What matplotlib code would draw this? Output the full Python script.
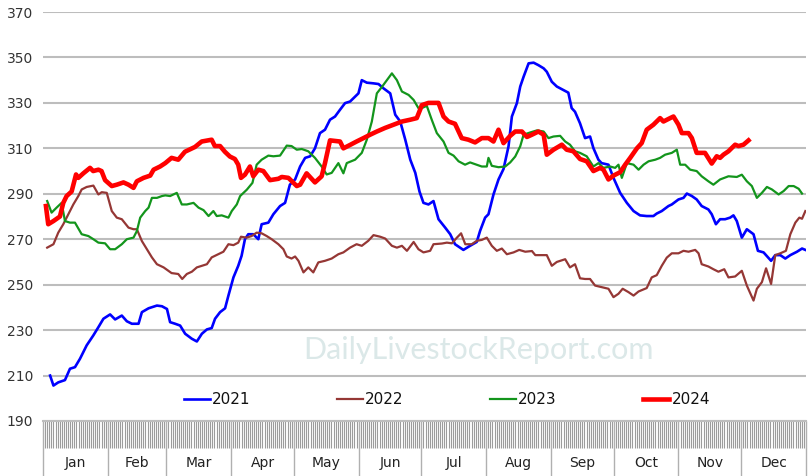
import matplotlib
matplotlib.use("Agg")
import matplotlib.pyplot as plt
import matplotlib.transforms as mtransforms
import numpy as np

# ---------------- data (day of year, value) ----------------
days_2021 = [3.4, 5, 7.3, 10.5, 12.9, 15.3, 17.7, 20.9, 24.1, 26.5, 28.9, 32.1, 34.5, 37.7, 40.1, 42.5, 45.7,
             47.3, 50.5, 54.5, 56.9, 59.3, 60.8, 63.2, 65.6, 68, 71.2, 73.6, 76, 78.4, 80.7, 82.3, 84.7, 87.1,
             88.7, 91.1, 93.4, 95, 96.6, 98.2, 100.6, 103, 104.6, 107.8, 110.2, 113.4, 115.8, 118.1, 120.6,
             123, 125.4, 127.8, 130.1, 132.5, 134.9, 137.3, 139.7, 142.1, 144.5, 146.9, 149.3, 150.9, 152.5,
             154.9, 158.1, 160.5, 162.9, 166.1, 168.5, 170.9, 173.3, 175.7, 178.1, 180.1, 182, 184.4, 186.8,
             189.2, 192.4, 194.8, 197.1, 201.1, 204.3, 207.5, 209.1, 211.5, 213.1, 215.5, 217.9, 220.3, 222.7,
             224.3, 226.7, 228.3, 229.9, 232.3, 234.7, 237, 239.5, 241, 243.4, 245.8, 249, 251.3, 252.9,
             254.5, 256.9, 259.3, 261.7, 263.3, 265.7, 267.2, 270.5, 272.9, 276.1, 279.3, 282.5, 285.6, 288.8,
             292, 293.6, 296, 299.2, 300.8, 304, 306.4, 308, 310.4, 312.7, 315.1, 318.3, 319.9, 321.9, 323.9,
             326.3, 328.7, 330.3, 331.9, 334.3, 336.7, 339.9, 342, 344.7, 348.3, 350.3, 352.7, 355.1, 357.5,
             360.7, 363.1, 364.7]
vals_2021 = [210, 205.6, 207, 208, 213, 213.7, 217.4, 223.3, 227.7, 231.3, 235, 236.9, 234.7, 236.4, 233.9,
             232.8, 232.8, 237.9, 239.6, 240.8, 240.5, 239.3, 233.5, 232.8, 232, 228.4, 226.2, 225, 228.4,
             230.3, 230.9, 235, 237.9, 239.6, 245.2, 253.2, 258.3, 262.7, 270, 272.2, 272.2, 270, 276.6,
             277.3, 281, 284.6, 286, 294, 296.3, 302, 305.8, 306.5, 310, 316.7, 318.2, 322.6, 324, 327,
             329.9, 330.6, 332.8, 334.2, 340, 338.9, 338.6, 338.3, 336.4, 334.2, 324.8, 321.8, 313.8, 305,
             299.2, 291, 286, 285.3, 286.8, 278.8, 275.1, 272.2, 267.8, 265.3, 267.1, 268.8, 273.7, 279.5,
             281, 289.7, 296.3, 300.9, 310.9, 324, 329.9, 337.2, 341.5, 347.4, 347.7, 346.6, 345.2, 343.7,
             339.3, 337.2, 335.6, 334.5, 327.7, 326.1, 321, 314.5, 315.2, 310.1, 305, 303.5, 302.8, 297,
             290.4, 286, 282.4, 280.5, 280.2, 280.2, 281.3, 282.4, 284.6, 285.3, 287.5, 288.2, 290.1, 289,
             287.5, 284.6, 283.1, 281, 276.6, 278.8, 278.8, 279.5, 280.5, 278, 270.7, 274.4, 272.2, 264.9,
             264.2, 260.5, 263, 263, 261.5, 263, 264.5, 265.9, 265.3]

days_2022 = [2, 5, 7.3, 9.7, 12.1, 14.5, 16.9, 18.5, 20.9, 24.1, 26.5, 28.1, 30.5, 32.9, 35.3, 37.7, 40.9,
             43.3, 44.9, 47.3, 49.7, 52.1, 54.5, 57.7, 61.5, 64.7, 66.6, 68.8, 71.2, 73.6, 76, 78.4, 80.7,
             83.9, 86.3, 88.7, 91.1, 93.4, 94.7, 97.4, 99.8, 102.2, 104.6, 107, 109.4, 112.6, 115, 116.6,
             118.9, 120.6, 122.2, 124.6, 126.9, 129.3, 131.7, 134.9, 138.1, 141.3, 143.7, 146.9, 150, 152.5,
             155.6, 158.1, 161.3, 163.7, 166.9, 169.3, 171.7, 174.1, 177.3, 179.6, 182, 185.2, 186.8, 190.8,
             193.2, 195.6, 198, 200, 202, 205.1, 207.5, 209.9, 212.3, 214.7, 217.1, 219.5, 221.9, 225.1,
             227.8, 230.7, 233.9, 235.5, 238.7, 241, 243.4, 245.8, 249.8, 252.1, 254.5, 256.9, 259.3, 261.7,
             264.1, 267.3, 270.5, 272.9, 275.3, 277.3, 280.1, 282.5, 284.9, 288.8, 291.2, 293.6, 296, 298.4,
             300.8, 304, 306.4, 308.8, 312, 313.6, 315.1, 318.3, 320.7, 323.1, 325.9, 327.9, 331.1, 334.3,
             336.7, 339.9, 341.5, 343.9, 345.9, 348.3, 350.3, 352.7, 355.4, 357.5, 359.9, 361.8, 363.1, 364.7]
vals_2022 = [266.3, 267.8, 272.9, 276.6, 281, 285.3, 289, 291.9, 293, 293.6, 289.7, 290.7, 290.4, 282.4,
             279.5, 278.8, 275.1, 274.4, 274.4, 269.2, 265.6, 262, 259, 257.6, 255.1, 254.7, 252.5, 254.7,
             255.7, 257.6, 258.3, 259, 262, 263.4, 264.5, 267.8, 267.4, 268.5, 271.1, 270.7, 271.4, 272.9,
             272.6, 271.4, 270, 267.8, 265.6, 262.4, 261.5, 262.4, 260.5, 255.4, 257.6, 255.4, 259.8, 260.5,
             261.5, 263.4, 264.2, 266.3, 267.8, 267.1, 269.3, 271.8, 271.1, 270.3, 267.1, 266.3, 267.1, 264.9,
             268.8, 265.6, 264.2, 264.9, 267.8, 268.1, 268.5, 268.2, 270.7, 272.6, 267.8, 267.8, 269.3, 269.7,
             270.7, 267.1, 264.9, 265.9, 263.4, 264.2, 265.3, 264.5, 264.8, 263, 263, 263, 258.3, 260, 261.2,
             257.6, 259, 252.8, 252.5, 252.5, 249.6, 248.9, 248.2, 244.5, 246, 248.2, 246.7, 245.2, 247, 248.5,
             253.2, 254.2, 258.3, 261.9, 263.8, 263.8, 264.9, 264.5, 265.3, 263.8, 259, 258, 256.8, 255.7,
             256.8, 253.2, 253.6, 256.1, 249.6, 243, 248.2, 251.1, 257.2, 250.3, 263, 263.8, 264.9, 272.2,
             277.3, 279.5, 279, 282.4]

days_2023 = [2, 4.1, 6.5, 8.9, 10.5, 12.9, 15.3, 18.5, 21.7, 24.1, 26.5, 29.7, 32.1, 34.5, 37.7, 40.1, 43.3,
             44.9, 46.5, 48.9, 50.5, 52.1, 54.5, 56.9, 58.5, 60.8, 64, 66.4, 68.8, 72, 74.4, 76.8, 79.2, 81.5,
             83.1, 85.5, 88.7, 90.3, 92.7, 94.3, 97.5, 100.2, 102.2, 104.6, 107.8, 110.2, 113.4, 116.6, 118.9,
             121.4, 123.8, 126.9, 130.1, 133.3, 135.7, 138.1, 141.3, 143.7, 145.3, 149.3, 152.5, 154.9, 157.3,
             159.7, 162.1, 164.5, 166.9, 169.3, 171.7, 174.9, 177.3, 179.6, 181.2, 183.6, 186, 188.4, 191.6,
             194, 196.4, 198.8, 201.9, 204.3, 207.5, 209.9, 212.3, 213.1, 214.7, 217.9, 221.1, 223.5, 225.9,
             228.3, 229.9, 233.1, 236.3, 239.5, 241.8, 244.2, 247.4, 249.8, 252.1, 254.5, 256.9, 260.1, 263.3,
             265.7, 268.1, 271.3, 273.7, 275.3, 276.9, 279.3, 282.5, 284.9, 287.3, 289.7, 292.9, 295.2, 297.6,
             300.8, 303.2, 304.8, 307.2, 309.6, 312.7, 315.1, 318.3, 320.7, 323.9, 327.9, 331.9, 334.3, 336.7,
             339.1, 341.5, 343.9, 346.3, 348.7, 351.9, 354.3, 356.7, 359.1, 361.5, 363.1]
vals_2023 = [286.8, 281.7, 283.9, 286, 278, 277.3, 277.3, 272.2, 271.4, 270, 268.5, 268.2, 265.6, 265.6,
             267.8, 270, 270.7, 273.6, 279.5, 282.4, 283.9, 288.2, 288.2, 289, 289.3, 289, 290.4, 285.3, 285.3,
             286, 283.9, 282.8, 280.2, 282.4, 280.2, 280.5, 279.5, 282.4, 285.3, 289, 291.8, 294.8, 302.8, 305,
             306.8, 306.5, 306.8, 311.2, 311, 309.4, 309.7, 308.7, 305.8, 302, 298.5, 299.2, 303.5, 299, 303.5,
             305, 308, 313.8, 321.8, 334.2, 337, 340, 343, 340, 335, 333.5, 331.3, 327.7, 327.7, 328.7, 322.5,
             316.7, 313, 308, 306.8, 304.3, 302.8, 303.8, 302.8, 302, 302, 305.8, 302.3, 301.7, 302, 303.8,
             306.4, 310.9, 316, 317, 317.9, 317.4, 314.5, 315.2, 315.5, 313, 311.6, 308.7, 308, 306.5, 302,
             303.5, 301.4, 302, 301.4, 302.8, 297, 303.5, 302.8, 300.6, 302.8, 304.3, 305, 305.8, 307.2, 308,
             309.4, 302.8, 302.8, 300.6, 300, 297.7, 295.5, 294, 296.3, 297.7, 297.4, 298.4, 295.5, 293.4,
             288.2, 290.4, 293, 291.9, 289.7, 291.2, 293.4, 293.4, 292.2, 290.1]

days_2024 = [1.4, 2.5, 5, 8.1, 9.7, 11.3, 13.7, 15.8, 16.9, 19.3, 22.5, 24, 26.5, 28, 29.7, 32.9, 35.3, 38.5,
             40.9, 43.3, 44.9, 48.1, 51.3, 52.9, 56, 58.5, 61.5, 64.7, 67.9, 72.7, 75.9, 80.7, 82.2, 84.7, 87,
             89.4, 91.8, 93.4, 94.7, 96.6, 99, 100.6, 103, 105.4, 108.6, 112.6, 114.2, 117.4, 121.4, 123,
             126.1, 130.1, 133.3, 134.9, 137.3, 142.1, 143.7, 146.9, 150, 153.3, 156.5, 159.7, 163.7, 167.7,
             171.7, 175.7, 178.8, 180.4, 181.2, 184.4, 189.2, 191.6, 194, 197.1, 200.3, 203.5, 206.7, 209.9,
             213.1, 215.5, 217.9, 220.3, 223.5, 225.9, 229.1, 231.5, 233.9, 237, 239.5, 241, 244.2, 248.2,
             250.5, 253.7, 256.9, 260.1, 263.3, 266.5, 268.1, 270.5, 272.9, 276.1, 278.5, 280.9, 284.1, 286.4,
             288.8, 292, 295.2, 296.8, 300, 301.6, 304, 305.6, 308.8, 310.4, 312.7, 316.7, 319.9, 322.3, 323.9,
             325.5, 327.9, 331.1, 332.7, 335.1, 337.5]
vals_2024 = [284.6, 276.6, 278, 280, 286, 289, 291, 298.5, 297, 299, 301.4, 300, 300.6, 300, 296, 293.4, 294,
             295, 294, 292.6, 295.5, 297, 298, 300.6, 302, 303.5, 305.8, 305, 308.5, 310.6, 313, 313.8, 311,
             311, 308.5, 306.4, 305.3, 302.8, 297, 298.4, 302, 297.7, 300.6, 300, 296, 296.6, 297.4, 297,
             293.4, 294, 299, 295, 297.7, 303.5, 313.5, 313, 310, 311.5, 313, 314.5, 316, 317.4, 319, 320.4,
             321.8, 322.6, 323.3, 327, 329, 330, 330, 324, 321.8, 320.8, 314.5, 313.8, 312.6, 314.5, 314.5,
             313, 318.2, 312.3, 315.5, 317.4, 317.4, 315, 316, 317.4, 316, 307.2, 309.4, 311.6, 309.4, 308.7,
             305.3, 304.3, 300, 301.4, 300.6, 296.3, 298, 299.5, 302.8, 305.8, 310, 312.3, 318.2, 320.4, 323.3,
             321.8, 323.3, 324, 320.4, 316.7, 316.7, 314.5, 308, 308, 303.3, 306.5, 305.8, 307.2, 308.7, 311.6,
             311, 311.6, 313.5]

series_names = ["2021", "2022", "2023", "2024"]
month_names = ["Jan", "Feb", "Mar", "Apr", "May", "Jun", "Jul", "Aug", "Sep", "Oct", "Nov", "Dec"]
month_starts = [0, 31, 59, 90, 120, 151, 181, 212, 243, 273, 304, 334, 365]
y_ticks = [190, 210, 230, 250, 270, 290, 310, 330, 350, 370]

# ---------------- figure ----------------
W, H = 809, 476
fig = plt.figure(figsize=(W / 100, H / 100), dpi=100)
ax = fig.add_axes([43 / W, 1 - 421 / H, 763 / W, 409 / H])

colors = ["#0000ff", "#953735", "#13951c", "#ff0000"]
widths = [1.9, 1.6, 1.6, 3.3]
data = [(days_2021, vals_2021), (days_2022, vals_2022), (days_2023, vals_2023), (days_2024, vals_2024)]
for (d, v), name, c, lw in zip(data, series_names, colors, widths):
    ax.plot(d, v, color=c, lw=lw, label=name, solid_joinstyle="round", zorder=3)

ax.set_xlim(0, 365)
ax.set_ylim(190, 370)
ax.set_yticks(y_ticks)
ax.yaxis.grid(True, color="#bdbdbd", lw=1.5, zorder=0)
ax.tick_params(axis="y", length=0, pad=7, labelsize=10, labelcolor="#333333")
for s in ["top", "right", "left"]:
    ax.spines[s].set_visible(False)
ax.spines["bottom"].set_color("#bdbdbd")
ax.spines["bottom"].set_linewidth(1.5)

# daily ticks (dense band) and month separators
ax.set_xticks(month_starts)
ax.set_xticklabels([])
ax.set_xticks(np.arange(0, 366, 1), minor=True)
ax.tick_params(axis="x", which="minor", length=19.5, width=0.8, color="#9c9c9c", direction="out")
ax.tick_params(axis="x", which="major", length=40, width=1.0, color="#b0b0b0", direction="out")

trans = mtransforms.blended_transform_factory(ax.transData, ax.transAxes)
for i, m in enumerate(month_names):
    mid = (month_starts[i] + month_starts[i + 1]) / 2
    ax.text(mid, -42 / 409, m, transform=trans, ha="center", va="center",
            fontsize=10, color="#222222")

# watermark
wm = ax.text(0, 0, "DailyLivestockReport.com", ha="center", va="center",
             fontsize=22, family="Lato", color="#dbe8e8", zorder=1)
wm.set_transform(mtransforms.IdentityTransform())
wm.set_position((478, H - 350))

leg = ax.legend(loc="center", bbox_to_anchor=((447 - 43) / 763, (421 - 400) / 409), ncol=4,
                frameon=False, fontsize=11, handlelength=1.7, handletextpad=0.15,
                columnspacing=5.65)
for t in leg.get_texts():
    t.set_color("#111111")

fig.savefig("out.png", dpi=100)
